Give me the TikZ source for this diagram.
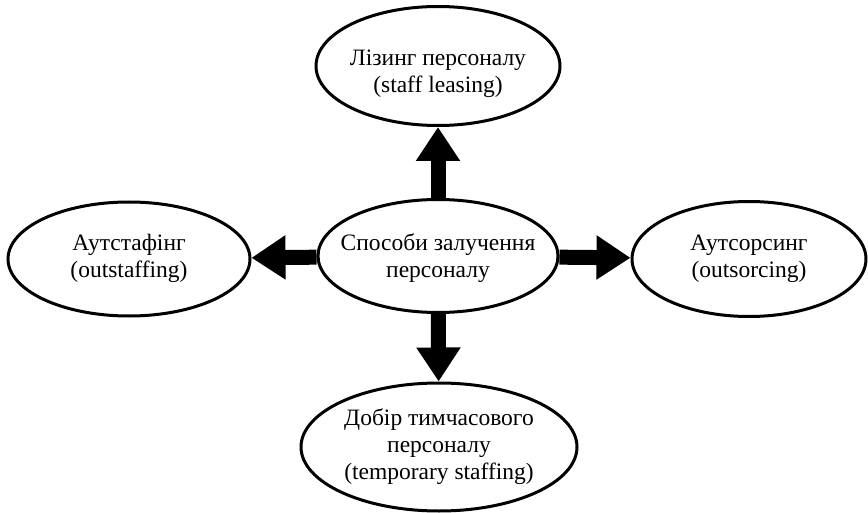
\documentclass[tikz,border=0pt]{standalone}
\usepackage{fontspec}
\setmainfont{Liberation Serif}
\usetikzlibrary{arrows.meta,shapes.geometric}

% text box of zero width, so that the ellipse keeps its given size;
% the optional shift moves the text down without changing the box
\newcommand{\ovaltext}[2][0pt]{\makebox[0pt]{\raisebox{#1}[\height][\depth]{\begin{tabular}{@{}c@{}}#2\end{tabular}}}}

\begin{document}
\begin{tikzpicture}[
    x=1pt, y=-1pt,
    oval/.style={draw, ellipse, line width=3pt, fill=white, inner sep=0pt,
        font=\fontsize{23.5}{27}\selectfont},
    bigarrow/.style={-{Triangle[width=42pt, length=34pt]}, line width=15pt}
]
    \useasboundingbox (0,0) rectangle (868,513);

    \node[oval, minimum width=240pt, minimum height=113pt] (ways) at (438,256)
        {\ovaltext[-3pt]{Способи залучення\\персоналу}};
    \node[oval, minimum width=244pt, minimum height=119pt] (leasing) at (438,66)
        {\ovaltext[-8pt]{Лізинг персоналу\\(staff leasing)}};
    \node[oval, minimum width=242pt, minimum height=114pt] (outstaff) at (129,259)
        {\ovaltext{Аутстафінг\\(outstaffing)}};
    \node[oval, minimum width=234pt, minimum height=115pt] (outsource) at (749,259)
        {\ovaltext{Аутсорсинг\\(outsorcing)}};
    \node[oval, minimum width=276pt, minimum height=128pt] (temp) at (439,447)
        {\ovaltext{Добір тимчасового\\персоналу\\(temporary staffing)}};

    \draw[bigarrow] (ways) -- (leasing);
    \draw[bigarrow] (ways) -- (outstaff);
    \draw[bigarrow] (ways) -- (outsource);
    \draw[bigarrow] (ways) -- (temp);
\end{tikzpicture}
\end{document}
